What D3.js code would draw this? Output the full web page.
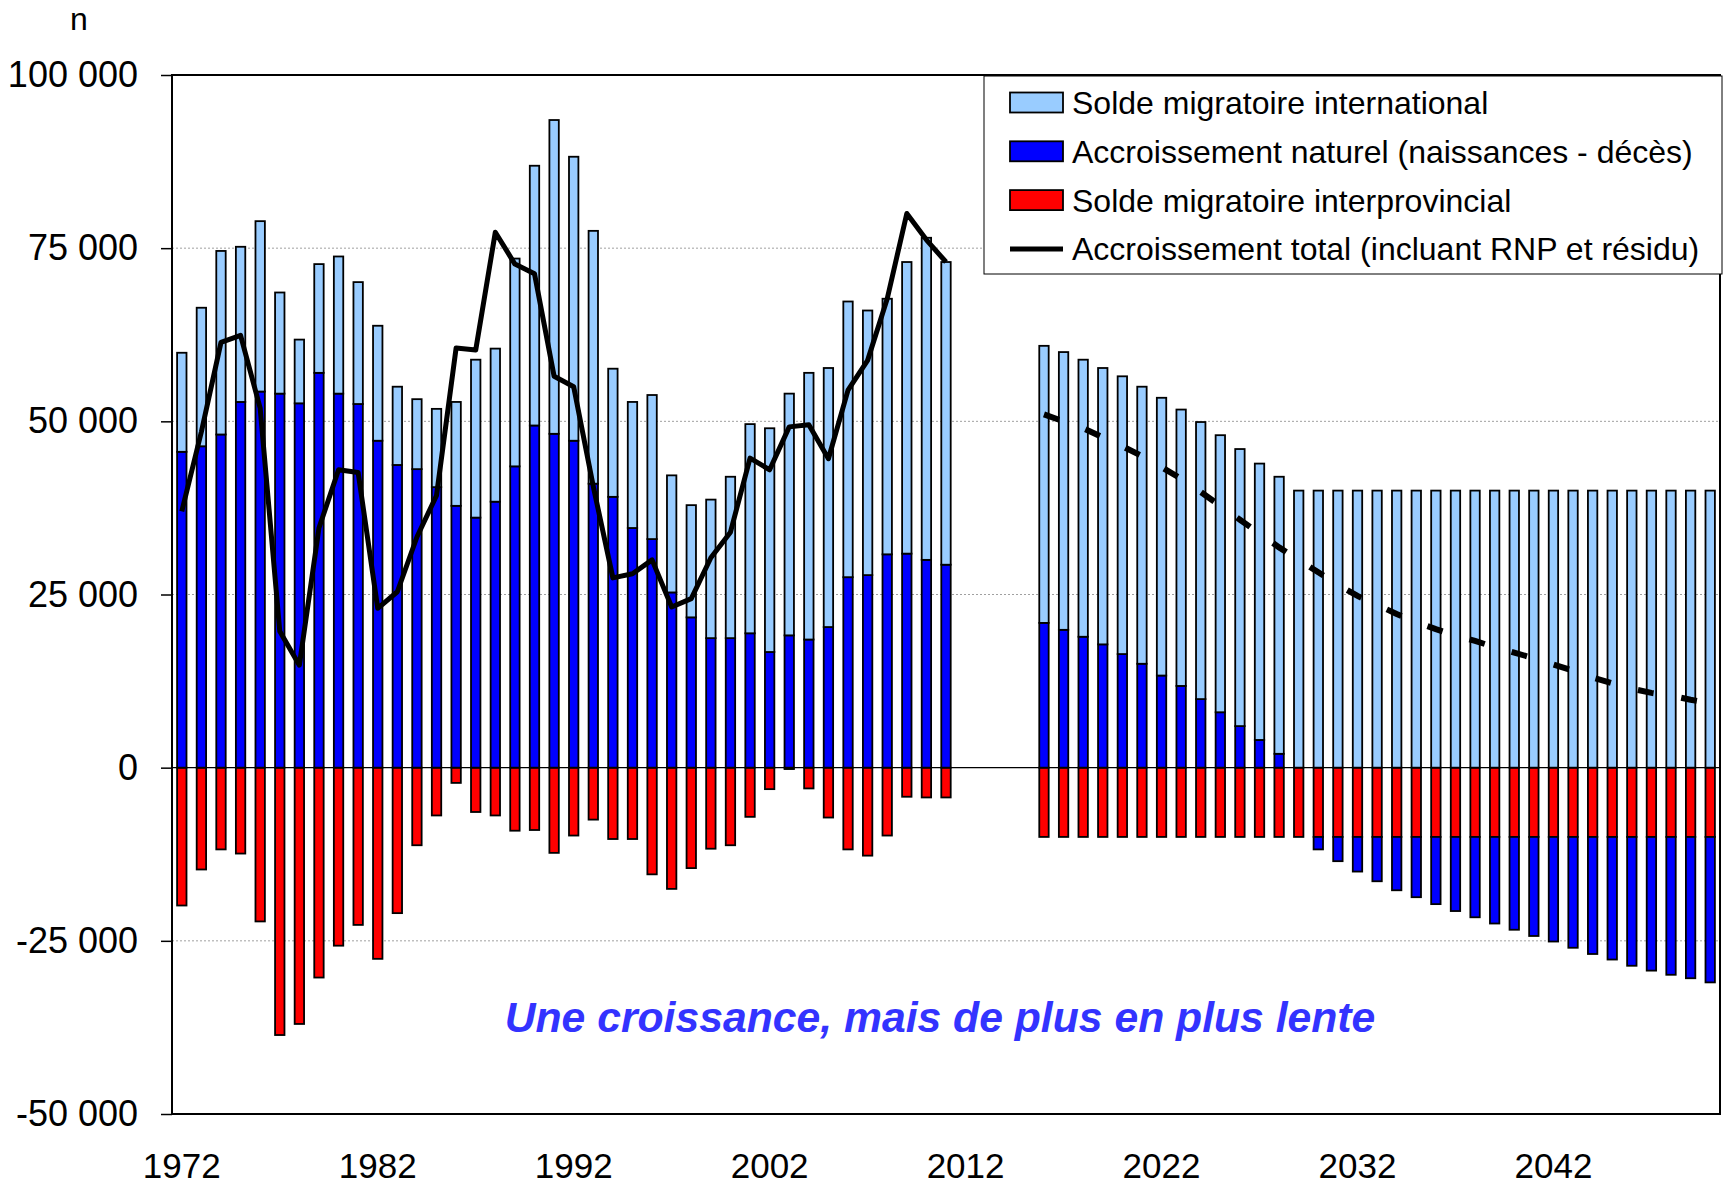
<!DOCTYPE html>
<html>
<head>
<meta charset="utf-8">
<script src="https://cdn.jsdelivr.net/npm/d3@7"></script>
<style>
body{margin:0;background:#fff;}
text{font-family:"Liberation Sans",Arial,sans-serif;}
</style>
</head>
<body>
<script>
// years 1972-2050, no data for 2012-2015
const years = [1972,1973,1974,1975,1976,1977,1978,1979,1980,1981,1982,1983,1984,1985,1986,1987,1988,1989,1990,1991,
  1992,1993,1994,1995,1996,1997,1998,1999,2000,2001,2002,2003,2004,2005,2006,2007,2008,2009,2010,2011,
  2012,2013,2014,2015,
  2016,2017,2018,2019,2020,2021,2022,2023,2024,2025,2026,2027,2028,2029,2030,2031,2032,2033,2034,2035,
  2036,2037,2038,2039,2040,2041,2042,2043,2044,2045,2046,2047,2048,2049,2050];

// Solde migratoire international
const intl = [14300,20000,26500,22400,24600,14600,9200,15700,19800,17600,16600,11300,10100,11300,15000,22800,22100,30000,37500,45300,
  41000,36500,18500,18200,20800,16900,16200,20000,23300,30200,32300,34900,38500,37400,39800,38200,36900,42100,46500,43700,
  null,null,null,null,
  40000,40100,40000,39900,40100,40000,40100,39900,40000,40000,40000,39900,40000,40000,40000,40000,40000,40000,40000,40000,
  40000,40000,40000,40000,40000,40000,40000,40000,40000,40000,40000,40000,40000,40000,40000];

// Accroissement naturel
const natural = [45600,46400,48100,52800,54300,54000,52600,57000,54000,52500,47200,43700,43100,40500,37800,36100,38400,43500,49400,48200,
  47200,41000,39100,34600,33000,25300,21700,18700,18700,19400,16700,19100,18500,20300,27500,27800,30800,30900,30000,29300,
  null,null,null,null,
  20900,19900,18900,17800,16400,15000,13300,11800,9900,8000,6000,4000,2000,0,-1800,-3500,-5000,-6400,-7700,-8700,
  -9700,-10700,-11600,-12500,-13400,-14300,-15100,-16000,-16900,-17700,-18600,-19300,-19900,-20400,-21000];

// Solde migratoire interprovincial
const interprov = [-19900,-14700,-11800,-12400,-22200,-38600,-37000,-30300,-25700,-22700,-27600,-21000,-11200,-6900,-2200,-6400,-6900,-9100,-9000,-12300,
  -9800,-7500,-10300,-10300,-15400,-17500,-14500,-11700,-11200,-7100,-3100,-200,-3000,-7200,-11800,-12700,-9800,-4200,-4300,-4300,
  null,null,null,null,
  -10000,-10000,-10000,-10000,-10000,-10000,-10000,-10000,-10000,-10000,-10000,-10000,-10000,-10000,-10000,-10000,-10000,-10000,-10000,-10000,
  -10000,-10000,-10000,-10000,-10000,-10000,-10000,-10000,-10000,-10000,-10000,-10000,-10000,-10000,-10000];

// Accroissement total
const total = [37000,48500,61400,62400,51900,19700,14800,34600,43000,42600,23000,25400,33300,39300,60600,60300,77300,72700,71300,56500,
  55000,40600,27400,28000,30000,23200,24400,30300,34000,44700,43000,49200,49500,44600,54500,58800,67700,80000,76200,73000,
  null,null,null,null,
  51000,50000,49000,47700,46400,45000,43400,41700,39800,37800,35800,33800,31800,30000,28200,26400,24800,23500,22200,21000,
  20000,19100,18300,17400,16600,15800,14900,14000,13000,12200,11400,10800,10400,9800,9300];

const tickYears = ["1972","1982","1992","2002","2012","2022","2032","2042"];
const yTicks = [-50000,-25000,0,25000,50000,75000,100000];
const gridTicks = [-25000,25000,50000,75000];
const legendLabels = ["Solde migratoire international","Accroissement naturel (naissances - décès)",
  "Solde migratoire interprovincial","Accroissement total (incluant RNP et résidu)"];

const w = 1726;
const h = 1187;
const pLeft = 172, pRight = 1720, pTop = 75, pBottom = 1114;

const colors = {intl:"#99ccff", natural:"#0000ff", interprov:"#ff0000"};

const svg = d3.select("body").append("svg")
  .attr("width", w)
  .attr("height", h);

const x = d3.scaleBand()
  .domain(years.map(String))
  .range([pLeft, pRight])
  .paddingInner(0.52)
  .paddingOuter(0.26);

const y = d3.scaleLinear()
  .domain([-50000, 100000])
  .range([pBottom, pTop]);

const cx = yr => x(String(yr)) + x.bandwidth()/2;

const fr = d3.formatLocale({decimal:",", thousands:" ", grouping:[3], currency:["",""], minus:"-"});
const fmt = fr.format(",");

// grid
svg.append("g").selectAll("line")
  .data(gridTicks)
  .enter().append("line")
  .attr("x1", pLeft).attr("x2", pRight)
  .attr("y1", d => y(d)).attr("y2", d => y(d))
  .attr("stroke", "#a0a0a0")
  .attr("stroke-width", 1)
  .attr("stroke-dasharray", "2,2");

svg.append("line")
  .attr("x1", pLeft).attr("x2", pRight)
  .attr("y1", y(0)).attr("y2", y(0))
  .attr("stroke", "#000").attr("stroke-width", 1.2);

// stacked bars
const rows = years.map((yr, i) => ({year: String(yr), intl: intl[i], natural: natural[i], interprov: interprov[i]}))
  .filter(d => d.intl != null);

const series = d3.stack()
  .keys(["interprov", "natural", "intl"])
  .offset(d3.stackOffsetDiverging)(rows);

svg.append("g").selectAll("g")
  .data(series)
  .enter().append("g")
  .attr("fill", s => colors[s.key])
  .selectAll("rect")
  .data(s => s.filter(d => d[0] !== d[1]))
  .enter().append("rect")
  .attr("x", d => x(d.data.year))
  .attr("width", x.bandwidth())
  .attr("y", d => y(Math.max(d[0], d[1])))
  .attr("height", d => Math.abs(y(d[0]) - y(d[1])))
  .attr("stroke", "#000")
  .attr("stroke-width", 1.8);

// total line
const pts = years.map((yr, i) => ({year: yr, v: total[i]}));
const line = d3.line()
  .x(d => cx(d.year))
  .y(d => y(d.v));

svg.append("path")
  .datum(pts.filter(d => d.year <= 2011))
  .attr("d", line)
  .attr("fill", "none")
  .attr("stroke", "#000")
  .attr("stroke-width", 5)
  .attr("stroke-linejoin", "round");

svg.append("path")
  .datum(pts.filter(d => d.year >= 2016))
  .attr("d", line)
  .attr("fill", "none")
  .attr("stroke", "#000")
  .attr("stroke-width", 6)
  .attr("stroke-dasharray", "16,28");

// frame
svg.append("rect")
  .attr("x", pLeft).attr("y", pTop)
  .attr("width", pRight - pLeft).attr("height", pBottom - pTop)
  .attr("fill", "none")
  .attr("stroke", "#000")
  .attr("stroke-width", 2);

// axes
const yAxis = d3.axisLeft(y).tickValues(yTicks).tickSize(11).tickPadding(23).tickFormat(fmt);
const gy = svg.append("g")
  .attr("transform", "translate(" + pLeft + ",0)")
  .call(yAxis);
gy.select(".domain").remove();
gy.selectAll(".tick line").attr("stroke", "#000").attr("stroke-width", 1.5);
gy.selectAll("text").attr("font-size", 36).attr("fill", "#000").attr("font-family", null);

const xAxis = d3.axisBottom(x).tickValues(tickYears).tickSize(0).tickPadding(39);
const gx = svg.append("g")
  .attr("transform", "translate(0," + pBottom + ")")
  .call(xAxis);
gx.select(".domain").remove();
gx.selectAll("text").attr("font-size", 35).attr("fill", "#000").attr("font-family", null);

svg.append("text")
  .attr("x", 79).attr("y", 30)
  .attr("text-anchor", "middle")
  .attr("font-size", 32)
  .text("n");

// legend
const lg = svg.append("g");
lg.append("rect")
  .attr("x", 984).attr("y", 76)
  .attr("width", 738).attr("height", 198)
  .attr("fill", "#fff")
  .attr("stroke", "#000")
  .attr("stroke-width", 1);

const legendKeys = ["intl", "natural", "interprov", "total"];
const item = lg.selectAll("g.item")
  .data(legendKeys)
  .enter().append("g")
  .attr("class", "item")
  .attr("transform", (d, i) => "translate(0," + (102.5 + i*48.8) + ")");

item.filter(d => d !== "total").append("rect")
  .attr("x", 1010).attr("y", -10)
  .attr("width", 53).attr("height", 20)
  .attr("fill", d => colors[d])
  .attr("stroke", "#000")
  .attr("stroke-width", 1.8);

item.filter(d => d === "total").append("line")
  .attr("x1", 1010).attr("x2", 1063)
  .attr("y1", 0).attr("y2", 0)
  .attr("stroke", "#000")
  .attr("stroke-width", 5);

item.append("text")
  .attr("x", 1072)
  .attr("y", 11.5)
  .attr("font-size", 32)
  .text((d, i) => legendLabels[i]);

// annotation
svg.append("text")
  .attr("x", 940).attr("y", 1032)
  .attr("text-anchor", "middle")
  .attr("font-size", 42.7)
  .attr("font-weight", "bold")
  .attr("font-style", "italic")
  .attr("fill", "#3333ff")
  .text("Une croissance, mais de plus en plus lente");
</script>
</body>
</html>
